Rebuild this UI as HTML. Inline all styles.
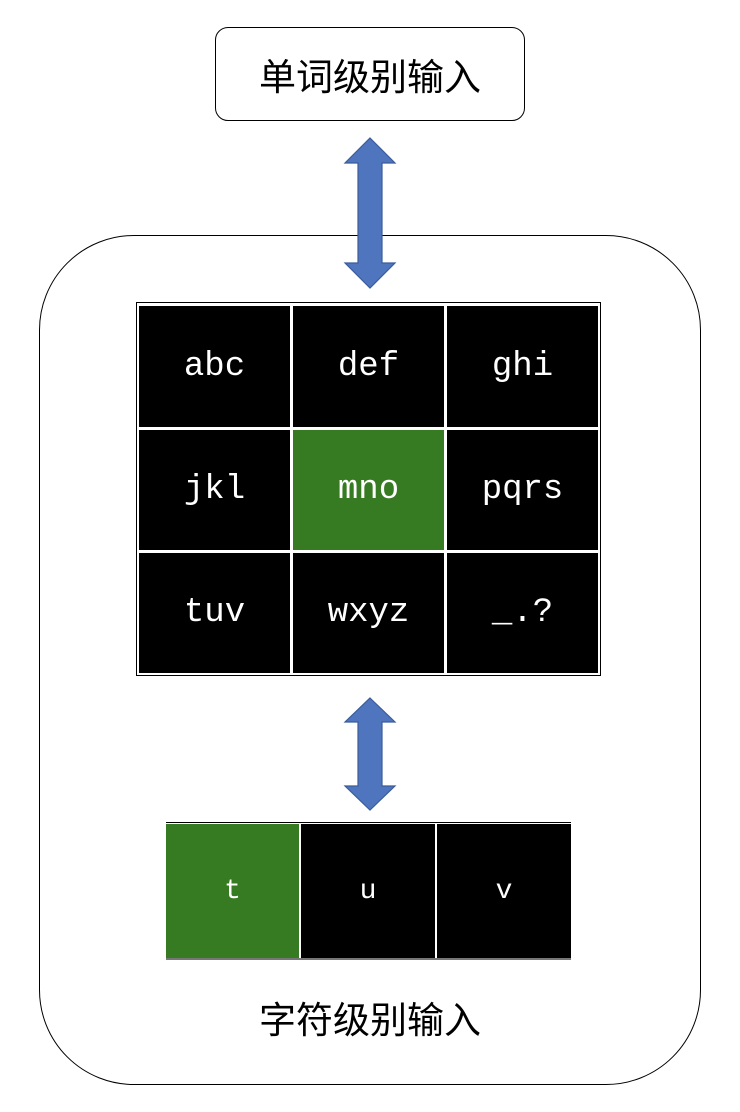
<!DOCTYPE html>
<html><head><meta charset="utf-8"><style>
body{margin:0;width:740px;height:1112px;background:#fff;position:relative;overflow:hidden;font-family:"Liberation Sans","Noto Sans CJK SC",sans-serif}
.abs{position:absolute}
.cell{position:absolute;background:#000;color:#fff;font-family:"Liberation Mono",monospace;font-size:34px;display:flex;align-items:center;justify-content:center}
.g{background:#367b22}
</style></head><body>
<div class="abs" style="left:215px;top:27px;width:308px;height:92px;border:1.5px solid #000;border-radius:13px;display:flex;align-items:center;justify-content:center;font-size:37px">单词级别输入</div>
<div class="abs" style="left:39px;top:235px;width:660px;height:848px;border:1.5px solid #000;border-radius:95px"></div>
<svg class="abs" style="left:0;top:0" width="740" height="1112">
<polygon points="370,138 395,163 382,163 382,263 395,263 370,288 345,263 358,263 358,163 345,163" fill="#4f75be" stroke="#3a5c9a" stroke-width="1.2"/>
<polygon points="370,698 395,722 382,722 382,786 395,786 370,810 345,786 358,786 358,722 345,722" fill="#4f75be" stroke="#3a5c9a" stroke-width="1.2"/>
</svg>
<div class="abs" style="left:136px;top:302px;width:463px;height:372px;border:1px solid #000;background:#fff"></div>
<div class="cell" style="left:139px;top:306px;width:151px;height:121px">abc</div>
<div class="cell" style="left:293px;top:306px;width:151px;height:121px">def</div>
<div class="cell" style="left:447px;top:306px;width:151px;height:121px">ghi</div>
<div class="cell" style="left:139px;top:430px;width:151px;height:120px">jkl</div>
<div class="cell g" style="left:293px;top:430px;width:151px;height:120px">mno</div>
<div class="cell" style="left:447px;top:430px;width:151px;height:120px">pqrs</div>
<div class="cell" style="left:139px;top:553px;width:151px;height:120px">tuv</div>
<div class="cell" style="left:293px;top:553px;width:151px;height:120px">wxyz</div>
<div class="cell" style="left:447px;top:553px;width:151px;height:120px">_.?</div>
<div class="abs" style="left:166px;top:822px;width:405px;height:1px;background:#000"></div>
<div class="cell g" style="left:166px;top:824px;width:133px;height:134px;font-size:28px">t</div>
<div class="cell" style="left:301px;top:824px;width:134px;height:134px;font-size:28px">u</div>
<div class="cell" style="left:437px;top:824px;width:134px;height:134px;font-size:28px">v</div>
<div class="abs" style="left:166px;top:958px;width:405px;height:2px;background:#777"></div>
<div class="abs" style="left:180px;top:999px;width:380px;text-align:center;font-size:37px;line-height:44px">字符级别输入</div>
</body></html>
